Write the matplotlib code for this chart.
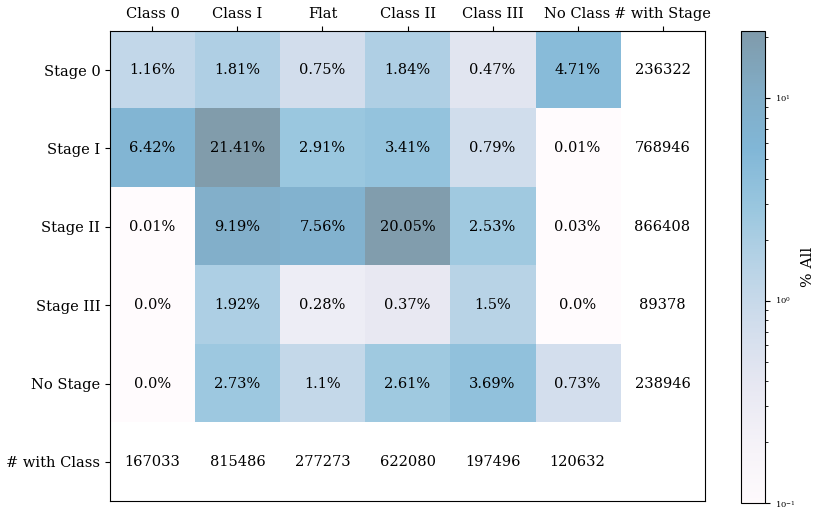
import numpy as np
import matplotlib
matplotlib.use("Agg")
import matplotlib.pyplot as plt
from matplotlib.colors import LogNorm

plt.rcParams['font.family'] = 'DejaVu Serif'

# categorias
classes = ['Class 0', 'Class I', 'Flat', 'Class II', 'Class III', 'No Class']
stages = ['Stage 0', 'Stage I', 'Stage II', 'Stage III', 'No Stage']

# % de todas as fontes
stage0 = [1.16, 1.81, 0.75, 1.84, 0.47, 4.71]
stage1 = [6.42, 21.41, 2.91, 3.41, 0.79, 0.01]
stage2 = [0.01, 9.19, 7.56, 20.05, 2.53, 0.03]
stage3 = [0.0, 1.92, 0.28, 0.37, 1.5, 0.0]
nostage = [0.0, 2.73, 1.1, 2.61, 3.69, 0.73]

n_stage = [236322, 768946, 866408, 89378, 238946]
n_class = [167033, 815486, 277273, 622080, 197496, 120632]

pct = np.array([stage0, stage1, stage2, stage3, nostage])

# matriz com linha/coluna extra vazias (NaN) para os totais
grid = np.full((len(stages) + 1, len(classes) + 1), np.nan)
grid[:len(stages), :len(classes)] = pct

fs_txt = 10.5

fig = plt.figure(figsize=(8.22, 5.16), dpi=100)
ax = fig.add_axes([0.1338, 0.029, 0.7239, 0.911])
cax = fig.add_axes([0.9015, 0.025, 0.0292, 0.915])

cmap = plt.get_cmap('PuBu').copy()
cmap.set_bad((1, 1, 1, 0))
norm = LogNorm(vmin=0.1, vmax=pct.max(), clip=True)
im = ax.imshow(grid, cmap=cmap, norm=norm, alpha=0.5, aspect='auto',
               interpolation='nearest')

for i in range(len(stages)):
    for j in range(len(classes)):
        ax.text(j, i, f"{pct[i, j]}%", ha='center', va='center', fontsize=fs_txt)
    ax.text(len(classes), i, str(n_stage[i]), ha='center', va='center', fontsize=fs_txt)
for j in range(len(classes)):
    ax.text(j, len(stages), str(n_class[j]), ha='center', va='center', fontsize=fs_txt)

ax.xaxis.tick_top()
ax.set_xticks(np.arange(len(classes) + 1))
ax.set_xticklabels(classes + ['# with Stage'], fontsize=fs_txt)
ax.set_yticks(np.arange(len(stages) + 1))
ax.set_yticklabels(stages + ['# with Class'], fontsize=fs_txt)

cb = fig.colorbar(im, cax=cax)
cb.set_label('% All', fontsize=11)
cb.ax.tick_params(labelsize=6)

plt.savefig('out.png', dpi=100)
